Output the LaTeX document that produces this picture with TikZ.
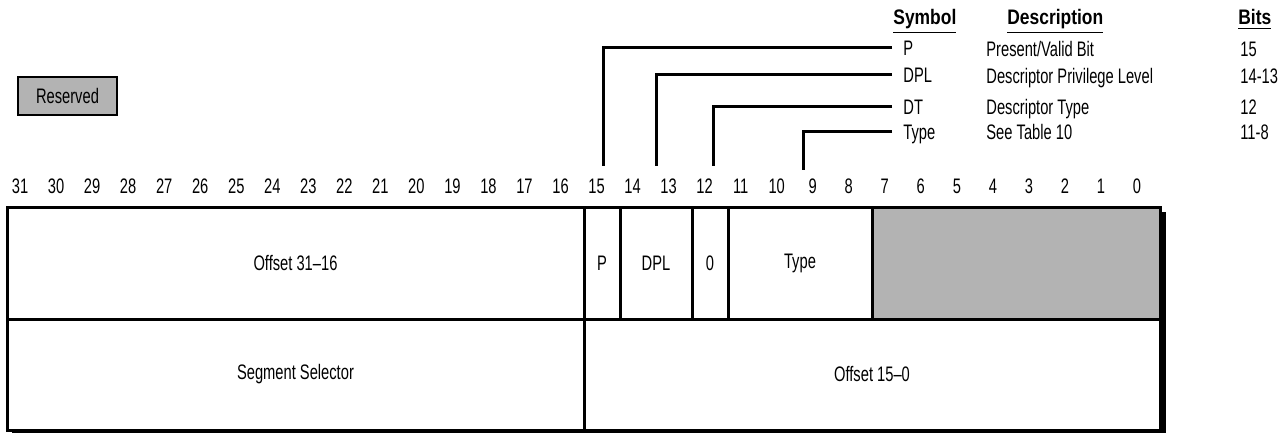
\documentclass[tikz,border=0pt]{standalone}
\usepackage{fontspec}
\setmainfont{Liberation Sans}[FakeStretch=0.7]
\newfontfamily\headfont{Liberation Sans}[FakeStretch=0.83]
\usetikzlibrary{positioning}
\definecolor{rsvdgray}{HTML}{B3B3B3}

\begin{document}
\begin{tikzpicture}[x=0.5pt,y=-0.5pt,
  font=\fontsize{10.5}{12}\selectfont,
  cell/.style={draw,line width=1.5pt,fill=white,minimum height=55.5pt,inner sep=0pt},
  bitnum/.style={inner sep=0pt},
  row/.style={anchor=west,inner sep=0pt,text height=7.5pt,text depth=0pt},
  sym/.style={row,inner xsep=5.5pt},
  head/.style={anchor=base west,inner sep=0pt,font=\fontsize{10.5}{12}\selectfont\headfont\bfseries},
  leader/.style={line width=1.5pt}]
\useasboundingbox (0,0) rectangle (1286,433);

% key for the reserved field
\node[draw,line width=1.2pt,fill=rsvdgray,minimum width=49.5pt,minimum height=19pt,inner sep=0pt]
  (rsvdkey) at (67.5,96) {Reserved};

% legend table
\node[head] (hsym) at (893,25) {\underline{Symbol}};
\node[head] (hdesc) at (1007,25) {\underline{Description}};
\node[head] (hbits) at (1238,25) {\underline{Bits}};
\node[sym] (symP) at (892,48) {P};
\node[sym] (symDPL) at (892,75) {DPL};
\node[sym] (symDT) at (892,107) {DT};
\node[sym] (symType) at (892,132) {Type};
\node[row] (descP) at (986,49) {Present/Valid Bit};
\node[row] (descDPL) at (986,76) {Descriptor Privilege Level};
\node[row] (descDT) at (986,107) {Descriptor Type};
\node[row] (descType) at (986,132) {See Table 10};
\node[row] (bitsP) at (1240,49) {15};
\node[row] (bitsDPL) at (1240,76) {14-13};
\node[row] (bitsDT) at (1240,107) {12};
\node[row] (bitsType) at (1240,132) {11-8};

% bit numbers
\foreach \b in {0,...,31}
  \node[bitnum] (bit\b) at ({1137-36.03*\b},186) {\b};

% leaders down to the bit positions
\coordinate (footP) at (603,166);
\coordinate (footDPL) at (656,166);
\coordinate (footDT) at (713,166);
\coordinate (footType) at (803,170);
\draw[leader] (symP.west) -| (footP);
\draw[leader] (symDPL.west) -| (footDPL);
\draw[leader] (symDT.west) -| (footDT);
\draw[leader] (symType.west) -| (footType);

% drop shadow
\fill (12,212) rectangle (1166,433);

% upper doubleword
\node[cell,minimum width=288.5pt] (offhi) at (295.5,263.5) {Offset 31--16};
\node[cell,minimum width=18pt] (pbit) at (602,263.5) {P};
\node[cell,minimum width=36pt] (dpl) at (656,263.5) {DPL};
\node[cell,minimum width=18pt] (dtbit) at (710,263.5) {0};
\node[cell,minimum width=72pt] (type) at (800,263.5) {Type};
\node[cell,fill=rsvdgray,minimum width=144pt] (rsvd) at (1016,263.5) {};

% lower doubleword
\node[cell,minimum width=288.5pt] (segsel) at (295.5,374.5) {Segment Selector};
\node[cell,minimum width=288pt] (offlo) at (872,374.5) {Offset 15--0};
\end{tikzpicture}
\end{document}
